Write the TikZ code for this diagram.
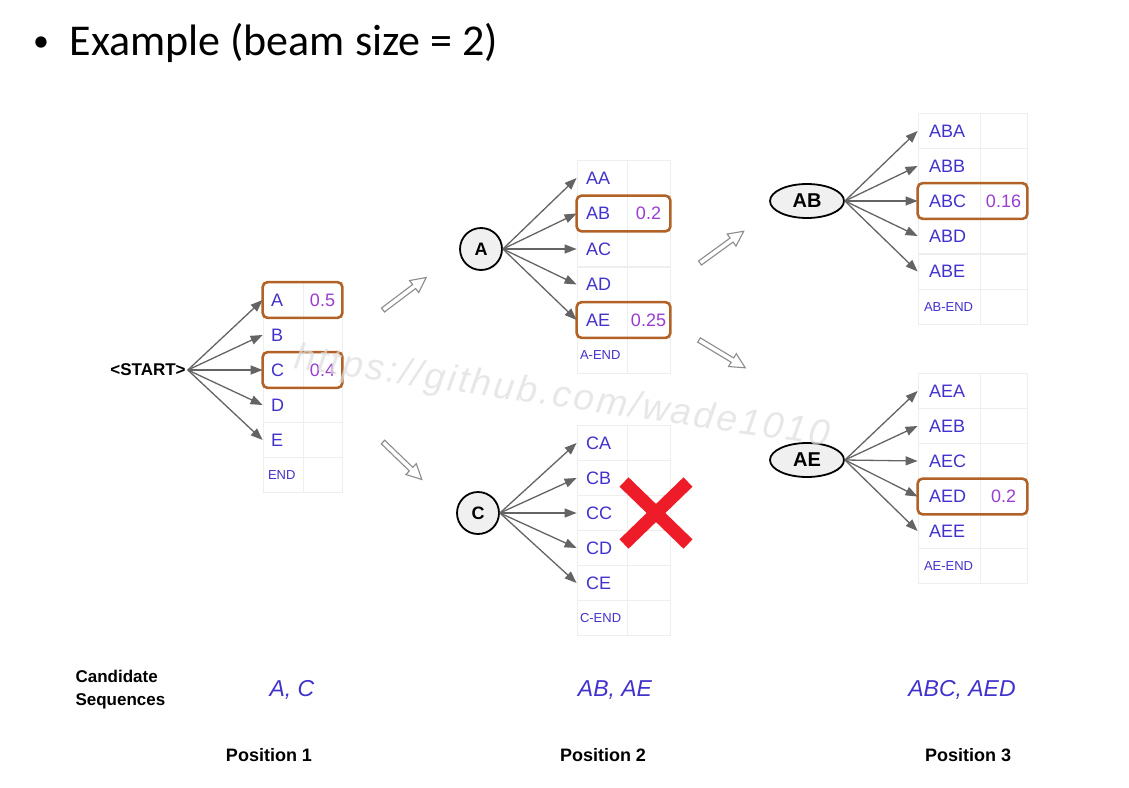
\documentclass[tikz,border=0pt]{standalone}
\usepackage{fontspec}
\setmainfont{Liberation Sans}
\newfontfamily\titlefont{Carlito}
\newfontfamily\wmfont[LetterSpace=7]{Liberation Sans}
\usetikzlibrary{arrows.meta,shapes.geometric,fit}
\definecolor{seqblue}{RGB}{66,50,205}
\definecolor{valpurple}{RGB}{155,60,210}
\definecolor{boxorange}{RGB}{178,98,38}
\definecolor{gridgray}{RGB}{238,238,238}
\definecolor{arrowgray}{RGB}{100,100,100}
\definecolor{xred}{RGB}{238,28,40}
\definecolor{wmgray}{RGB}{222,222,222}
\begin{document}
\begin{tikzpicture}[x=1pt,y=-1pt,
  keycell/.style 2 args={draw=gridgray, line width=0.8pt, minimum height=35pt, inner ysep=0pt, inner xsep=#2, text width=#1, align=left, text=seqblue, font=\fontsize{18}{20}\selectfont},
  valcell/.style={draw=gridgray, line width=0.8pt, minimum height=35pt, minimum width=#1, inner sep=0pt, text=valpurple, font=\fontsize{18}{20}\selectfont},
  endlbl/.style={font=\fontsize{13}{14}\selectfont},
  chosen/.style={draw=boxorange, line width=2.6pt, rounded corners=5pt, inner sep=0pt},
  conn/.style={draw=arrowgray, line width=1.3pt, -{Triangle[length=12pt,width=9pt]}},
  tok/.style={circle, draw=black, line width=1.8pt, fill=black!6, minimum size=42pt, inner sep=0pt, font=\bfseries\fontsize{18}{20}\selectfont},
  ptok/.style={ellipse, draw=black, line width=1.8pt, fill=black!6, minimum width=74pt, minimum height=34pt, inner sep=0pt, font=\bfseries\fontsize{20}{20}\selectfont},
  xmark/.style={draw=xred, line width=13pt},
  hollow/.pic={\draw[draw=black!45, line width=1.1pt, fill=white, line join=miter] (0,-2.5) -- (39,-2.5) -- (39,-7.5) -- (54,0) -- (39,7.5) -- (39,2.5) -- (0,2.5) -- cycle;},
  bottomlbl/.style={font=\bfseries\fontsize{18}{20}\selectfont},
  candlbl/.style={font=\itshape\fontsize{23}{25}\selectfont, text=seqblue}
]
\useasboundingbox[fill=white] (0,0) rectangle (1129,787);

% title
\node[anchor=base, font=\titlefont\fontsize{32}{36}\selectfont] (bullet) at (41,51) {•};
\node[anchor=base west, font=\titlefont\fontsize{44}{50}\selectfont] (title) at (66,55) {Example (beam size = 2)};

% ---------- Position 1 ----------
\node[font=\bfseries\fontsize{17}{20}\selectfont, inner sep=2pt] (start) at (148,370) {<START>};
\foreach \n/\y/\v in {A/300/0.5,B/335/{},C/370/0.4,D/405/{},E/440/{}}{
  \node[keycell={24pt}{8pt}] (s1\n) at (283,\y) {\n};
  \node[valcell=39pt] (s1\n-v) at (322.5,\y) {\v};
}
\node[keycell={24pt}{8pt}, endlbl] (s1END) at (283,475) {\hspace*{-3pt}\mbox{END}};
\node[valcell=39pt] (s1END-v) at (322.5,475) {};
\node[chosen, fit=(s1A)(s1A-v)] (h1A) {};
\node[chosen, fit=(s1C)(s1C-v)] (h1C) {};
\foreach \n in {A,B,C,D,E} \draw[conn] (start.east) -- (s1\n.west);

% ---------- Position 2: A ----------
\node[tok] (nA) at (481,249) {A};
\foreach \n/\y/\v in {AA/178/{},AB/213.5/0.2,AC/249/{},AD/284.5/{},AE/320/0.25}{
  \node[keycell={32pt}{9pt}] (s2\n) at (602,\y) {\n};
  \node[valcell=43pt] (s2\n-v) at (648.5,\y) {\v};
}
\node[keycell={32pt}{9pt}, endlbl] (s2AEND) at (602,355.5) {\hspace*{-6pt}\mbox{A-END}};
\node[valcell=43pt] (s2AEND-v) at (648.5,355.5) {};
\node[chosen, fit=(s2AB)(s2AB-v)] (h2AB) {};
\node[chosen, fit=(s2AE)(s2AE-v)] (h2AE) {};
\foreach \n in {AA,AB,AC,AD,AE} \draw[conn] (nA.east) -- (s2\n.west);

% ---------- Position 2: C ----------
\node[tok] (nC) at (478,513) {C};
\foreach \n/\y in {CA/443,CB/478,CC/513,CD/548,CE/583}{
  \node[keycell={32pt}{9pt}] (s2\n) at (602,\y) {\n};
  \node[valcell=43pt] (s2\n-v) at (648.5,\y) {};
}
\node[keycell={32pt}{9pt}, endlbl] (s2CEND) at (602,618) {\hspace*{-6pt}\mbox{C-END}};
\node[valcell=43pt] (s2CEND-v) at (648.5,618) {};
\foreach \n in {CA,CB,CC,CD,CE} \draw[conn] (nC.east) -- (s2\n.west);
\draw[xmark] (624,482) -- (688,544) (624,544) -- (688,482);

% ---------- Position 3: AB ----------
\node[ptok] (nAB) at (807,201) {AB};
\foreach \n/\y/\v in {ABA/131/{},ABB/166/{},ABC/201/0.16,ABD/236/{},ABE/271.5/{}}{
  \node[keycell={40pt}{11pt}] (s3\n) at (949,\y) {\n};
  \node[valcell=47pt] (s3\n-v) at (1003.5,\y) {\v};
}
\node[keycell={40pt}{11pt}, endlbl] (s3ABEND) at (949,307) {\hspace*{-5pt}\mbox{AB-END}};
\node[valcell=47pt] (s3ABEND-v) at (1003.5,307) {};
\node[chosen, fit=(s3ABC)(s3ABC-v)] (h3ABC) {};
\foreach \n in {ABA,ABB,ABC,ABD,ABE} \draw[conn] (nAB.east) -- (s3\n.west);

% ---------- Position 3: AE ----------
\node[ptok] (nAE) at (807,460) {AE};
\foreach \n/\y/\v in {AEA/391/{},AEB/426/{},AEC/461/{},AED/496.5/0.2,AEE/531/{}}{
  \node[keycell={40pt}{11pt}] (s3\n) at (949,\y) {\n};
  \node[valcell=47pt] (s3\n-v) at (1003.5,\y) {\v};
}
\node[keycell={40pt}{11pt}, endlbl] (s3AEEND) at (949,566) {\hspace*{-5pt}\mbox{AE-END}};
\node[valcell=47pt] (s3AEEND-v) at (1003.5,566) {};
\node[chosen, fit=(s3AED)(s3AED-v)] (h3AED) {};
\foreach \n in {AEA,AEB,AEC,AED,AEE} \draw[conn] (nAE.east) -- (s3\n.west);

% ---------- hollow transition arrows ----------
\pic[rotate=37] at (383,310) {hollow};
\pic[rotate=-44] at (383,442) {hollow};
\pic[rotate=36] at (700,263) {hollow};
\pic[rotate=-31] at (699,340) {hollow};

% ---------- bottom labels ----------
\node[anchor=west, align=left, font=\bfseries\fontsize{17}{23}\selectfont] (cand) at (72,690) {Candidate\\Sequences};
\node[candlbl] (cs1) at (292,690) {A, C};
\node[candlbl] (cs2) at (615,690) {AB, AE};
\node[candlbl] (cs3) at (962,690) {ABC, AED};
\node[bottomlbl] (pos1) at (269,755) {Position 1};
\node[bottomlbl] (pos2) at (603,755) {Position 2};
\node[bottomlbl] (pos3) at (968,755) {Position 3};

% ---------- watermark ----------
\node[anchor=base west, rotate=-8.3, text=wmgray, text opacity=0.7, inner sep=0pt, font=\wmfont\itshape\fontsize{37}{40}\selectfont] (wm) at (293,368) {https://github.com/wade1010};
\end{tikzpicture}
\end{document}
